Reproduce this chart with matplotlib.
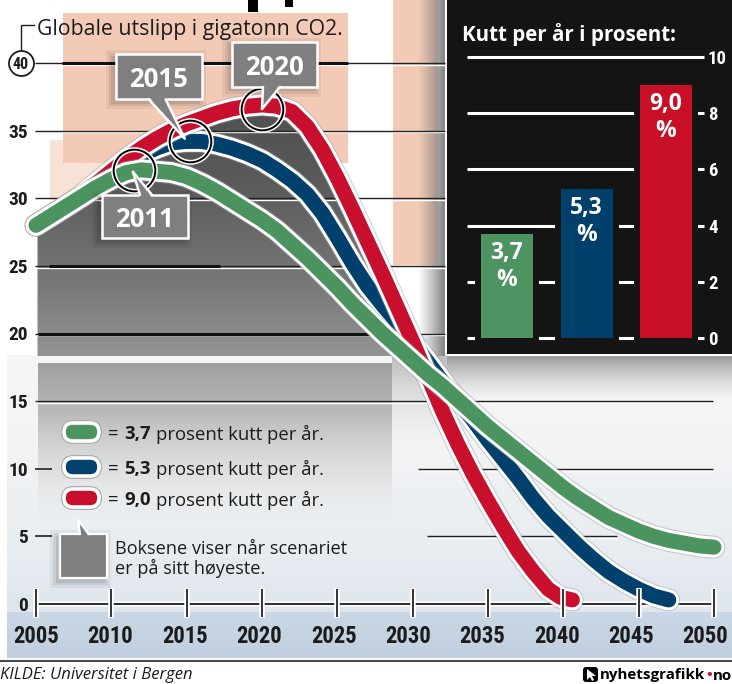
import numpy as np
import matplotlib
matplotlib.use('Agg')
import matplotlib.pyplot as plt
from matplotlib import font_manager
from matplotlib.colors import to_rgba
from matplotlib.patches import Rectangle, Polygon, FancyBboxPatch

# global emissions, gigatonnes CO2 (one point per year)
years_green = list(range(2005, 2051))
co2_green = [28.0, 28.7, 29.4, 30.1, 30.8, 31.4, 31.9, 32.1, 32.0, 31.9,
             31.6, 31.1, 30.5, 29.8, 29.1, 28.4, 27.6, 26.6, 25.6, 24.5,
             23.4, 22.2, 21.1, 20.0, 19.0, 18.0, 17.0, 16.1, 15.1, 14.1,
             13.1, 12.2, 11.3, 10.4, 9.5, 8.6, 7.8, 7.1, 6.4, 5.9,
             5.4, 5.0, 4.7, 4.5, 4.3, 4.2]
years_blue = list(range(2005, 2048))
co2_blue = [28.0, 28.7, 29.4, 30.1, 30.9, 31.7, 32.5, 33.2, 33.7, 34.1,
            34.2, 34.2, 34.0, 33.7, 33.3, 32.8, 32.1, 31.3, 30.3, 28.9,
            27.1, 25.2, 23.5, 22.1, 20.8, 19.4, 17.9, 16.4, 15.0, 13.6,
            12.1, 10.7, 9.3, 7.8, 6.5, 5.4, 4.3, 3.3, 2.4, 1.7,
            1.1, 0.6, 0.3]
years_red = list(range(2005, 2040)) + [2039.8, 2040.6]
co2_red = [28.0, 28.7, 29.4, 30.2, 31.1, 32.0, 32.9, 33.7, 34.4, 35.0,
           35.5, 35.9, 36.3, 36.6, 36.8, 36.9, 36.8, 36.4, 35.3, 33.6,
           31.5, 29.2, 26.8, 24.4, 21.9, 19.4, 16.8, 14.2, 11.8, 9.6,
           7.6, 5.7, 3.9, 2.4, 1.1, 0.5, 0.3]

# cut per year in percent for the three scenarios
cut_labels = ['3,7', '5,3', '9,0']
cut_values = [3.7, 5.3, 9.0]

# when each scenario peaks
peak_labels = ['2011', '2015', '2020']
peak_x = [2011.5, 2015.2, 2020.0]
peak_y = [32.1, 34.2, 36.6]

x_ticks = list(range(2005, 2051, 5))
y_ticks = [0, 5, 10, 15, 20, 25, 30, 35, 40]
bar_ticks = [0, 2, 4, 6, 8, 10]

GREEN, BLUE, RED = '#4b9460', '#00406d', '#c8102e'
INK = '#1c1c1c'
BOXGRAY = '#7f7f7f'
W, H = 732, 684

fl = font_manager.fontManager.ttflist
names = {f.name for f in fl}
SANS = 'Open Sans' if 'Open Sans' in names else 'DejaVu Sans'
narrow = sorted({f.name for f in fl if 'condensed' in str(f.stretch) or 'Narrow' in f.name
                 or 'Condensed' in f.name})
NARROW = narrow[0] if narrow else 'Liberation Sans'
for n in ['Liberation Sans Narrow', 'Roboto Condensed', 'Open Sans Condensed', 'DejaVu Sans']:
    if n in narrow:
        NARROW = n
        break
if NARROW not in names:
    NARROW = 'DejaVu Sans'
COND = dict(family=NARROW, fontstretch='condensed', weight='bold')
plt.rcParams['font.family'] = [SANS, 'DejaVu Sans']

# pixel <-> data for the main chart
SX = (714 - 36) / 45.0
SY = (604 - 63) / 40.0


def yr(px):
    return 2005 + (px - 36) / SX


def gt(py):
    return (604 - py) / SY


fig = plt.figure(figsize=(W / 100, H / 100), dpi=100)
bg = fig.add_axes([0, 0, 1, 1], zorder=0)
ax = fig.add_axes([0, 0, 1, 1], zorder=1)
pan = fig.add_axes([447 / W, 1 - 354 / H, 1 - 447 / W, 354 / H], zorder=2)
for a in (bg, ax, pan):
    a.set_axis_off()
bg.set_xlim(0, W)
bg.set_ylim(H, 0)
ax.set_xlim(yr(0), yr(W))
ax.set_ylim(gt(H), gt(0))
T = bg.transData
R = fig.canvas.get_renderer()


def gradient(axes, extent, stops, vertical=True, z=0):
    t = np.linspace(0, 1, 200)
    pos = [s[0] for s in stops]
    cols = np.array([to_rgba(s[1], s[2] if len(s) > 2 else 1) for s in stops])
    img = np.stack([np.interp(t, pos, cols[:, k]) for k in range(4)], axis=-1)
    img = img[:, None, :] if vertical else img[None, :, :]
    return axes.imshow(img, extent=extent, aspect='auto', interpolation='bilinear', zorder=z)


def fit(t, width):
    w = t.get_window_extent(R).width
    t.set_fontsize(t.get_fontsize() * width / w)
    return t


def right_edge(t):
    bb = t.get_window_extent(R)
    return T.inverted().transform((bb.x1, bb.y0))[0]


def shadow(x, y, w, h, z):
    for grow, alpha in [(7, 0.05), (4, 0.07), (1.5, 0.09)]:
        ax.add_patch(Rectangle((x - 3 - grow, y + 3 - grow), w + 2 * grow, h + 2 * grow,
                               fc='black', ec='none', alpha=alpha, transform=T, zorder=z))


# ---- background ----
bg.add_patch(Rectangle((50, 140), 170, 155, fc='#f8e1d5', ec='none', zorder=1))
bg.add_patch(Rectangle((63, 13), 285, 150, fc='#f2cab6', ec='none', zorder=2))
bg.add_patch(Rectangle((393, 0), 45, 265, fc='#f2cab6', ec='none', zorder=2))
gradient(bg, (418, 446, 356, 0), [(0, '#888888', 0), (1, '#6a6a6a', 0.9)], vertical=False, z=3)
bg.add_patch(Rectangle((248, 0), 10, 12, fc='black', zorder=3))
bg.add_patch(Rectangle((285, 0), 8, 7, fc='black', zorder=3))
gradient(bg, (7, W, 612, 355), [(0, '#f5f6f7'), (0.4, '#f1f3f5'), (0.75, '#e8edf1'), (1, '#dfe6ed')], z=1)
gradient(bg, (38, 392, 520, 363), [(0, '#9f9f9f'), (0.3, '#b5b5b5', 0.95), (0.7, '#d0d0d0', 0.5), (1, '#e0e0e0', 0)], z=2)
gradient(bg, (392, 447, 440, 356), [(0, '#bcbcbc'), (1, '#dddddd', 0)], z=2)
gradient(bg, (447, W, 400, 356), [(0, '#8d8d8d', 0.9), (1, '#cccccc', 0)], z=2)
gradient(bg, (7, W, 658, 612), [(0, '#cbd7e4'), (1, '#c0cfdf')], z=2)
bg.plot([0, W], [660.5, 660.5], color='#4a4a4a', lw=1.5, zorder=3)
bg.plot([446, 446, W], [0, 355, 355], color='white', lw=1.6, zorder=4)

# dark area under the highest curve
FLOOR = 18.3
xr = np.array(years_red)
yv = np.array(co2_red)
edge = yr(392)
keep = xr < edge
verts = [(2005.1, FLOOR), (2005.1, yv[0])] + list(zip(xr[keep][1:], yv[keep][1:])) + \
        [(edge, np.interp(edge, xr, yv)), (edge, FLOOR)]
clip = Polygon(verts, closed=True, transform=ax.transData)
im = gradient(ax, (2005, edge, FLOOR, 38), [(0, '#4e4e4e'), (0.35, '#5a5a5a'), (0.75, '#7a7a7a'), (1, '#939393')], z=1)
im.set_clip_path(clip)

# ---- grid ----
grid_spans = {40: (35, 445), 35: (35, 445), 30: (35, 445), 25: (35, 445),
              20: (35, 445), 15: (35, 713), 10: (418, 713), 5: (427, 617)}
for v, (a, b) in grid_spans.items():
    ax.hlines(v - 1.8 / SY, yr(a), yr(b), color='white', lw=1.0, zorder=2)
    ax.hlines(v, yr(a), yr(b), color='#222222', lw=1.0, zorder=2)
for v, a, b in [(40, 62, 348), (25, 49, 220), (20, 38, 377)]:
    ax.hlines(v, yr(a), yr(b), color='#111111', lw=2.2, zorder=2)
for v in (10, 5):
    ax.hlines(v, yr(35), yr(52), color='#222222', lw=1.2, zorder=2)

yfs = None
for v in sorted(y_ticks, reverse=True):
    if v == 40:
        ax.plot(yr(21), v, 'o', ms=18, mfc='white', mec=INK, mew=1.3, zorder=4)
        ax.text(yr(21), v, str(v), ha='center', va='center_baseline', fontsize=11.5,
                color=INK, zorder=5, **COND)
    else:
        t = ax.text(yr(28), v, str(v), ha='right', va='center_baseline', fontsize=yfs or 12,
                    color=INK, zorder=5, **COND)
        if yfs is None:
            fit(t, 19.5)
            yfs = t.get_fontsize()
bg.plot([21, 21, 34], [51, 25, 25], color=INK, lw=1, zorder=4)
title = bg.text(37, 27, 'Globale utslipp i gigatonn CO2.', va='center_baseline',
                fontsize=15, color=INK, zorder=5)
fit(title, 306)

# x axis
ax.hlines(0, 2005, 2050, color='white', lw=4, zorder=2.5)
ax.hlines(0, 2005, 2050, color='#333333', lw=1.5, zorder=2.6)
ax.vlines(x_ticks, gt(618), gt(588), color='white', lw=4, zorder=20)
ax.vlines(x_ticks, gt(617), gt(589), color='#333333', lw=1.4, zorder=21)
xfs = None
for x in x_ticks:
    # the printed labels sit on a slightly tighter pitch than the ticks
    t = ax.text(yr(36 + (x - 2005) / 5 * 74.4), gt(634), str(x), ha='center',
                va='center_baseline', fontsize=xfs or 16, color=INK, zorder=5, **COND)
    if xfs is None:
        fit(t, 46)
        xfs = t.get_fontsize()

# ---- scenario lines ----
for i, (xs, ys, c) in enumerate([(years_blue, co2_blue, BLUE),
                                 (years_red, co2_red, RED),
                                 (years_green, co2_green, GREEN)]):
    z = 5 + i
    ax.plot(xs, ys, color='#9a9a9a', lw=16.5, alpha=0.45, solid_capstyle='round',
            solid_joinstyle='round', zorder=z)
    ax.plot(xs, ys, color='white', lw=15, solid_capstyle='round', solid_joinstyle='round', zorder=z)
    ax.plot(xs, ys, color=c, lw=10.8, solid_capstyle='round', solid_joinstyle='round', zorder=z + 0.1)

# ---- peak callouts ----
ax.plot(peak_x, peak_y, 'o', ms=30, mfc='none', mec='white', mew=3.6, zorder=9)
ax.plot(peak_x, peak_y, 'o', ms=30, mfc='none', mec='black', mew=1.4, zorder=9.1)
box_rel = [(-32, 25, 86, 43), (-74, -87, 86, 45), (-30, -67, 85, 45)]
ptr_rel = [((6, 25), (18, 25), (-1, 2), 3), ((-41, -42), (-24, -42), (-5, -3), -3),
           ((1, -22), (18, -22), (0, 0), -3)]
for lab, px_, py_, (dx, dy, bw, bh), (b1, b2, tip, ins) in zip(peak_labels, peak_x, peak_y, box_rel, ptr_rel):
    cx, cy = T.inverted().transform(ax.transData.transform((px_, py_)))
    shadow(cx + dx, cy + dy, bw, bh, 9.5)
    ax.add_patch(Rectangle((cx + dx, cy + dy), bw, bh, fc=BOXGRAY, ec='white', lw=1.8,
                           transform=T, zorder=10))
    ax.add_patch(Polygon([(cx + b1[0], cy + b1[1] + ins), (cx + b2[0], cy + b2[1] + ins),
                          (cx + tip[0], cy + tip[1])], closed=True, fc=BOXGRAY, ec='none',
                         transform=T, zorder=11))
    for b in (b1, b2):
        ax.plot([cx + b[0], cx + tip[0]], [cy + b[1], cy + tip[1]], color='white', lw=1.8,
                transform=T, zorder=11, solid_capstyle='round')
    ax.text(cx + dx + bw / 2, cy + dy + bh / 2, lab, ha='center', va='center_baseline',
            color='white', weight='bold', fontsize=18.5, transform=T, zorder=12)

# ---- legend ----
legend_y = [432, 467, 498]
FS = None
for lab, col, y in zip(cut_labels, [GREEN, BLUE, RED], legend_y):
    ax.add_patch(FancyBboxPatch((64, y - 9), 35, 18, boxstyle='round,pad=0,rounding_size=9',
                                fc='none', ec='#a8a8a8', lw=4.2, transform=T, zorder=7.9))
    ax.add_patch(FancyBboxPatch((64, y - 9), 35, 18, boxstyle='round,pad=0,rounding_size=9',
                                fc=col, ec='white', lw=2.6, transform=T, zorder=8))
    t3 = ax.text(158, y, 'prosent kutt per år.', va='center_baseline', color=INK,
                 fontsize=FS or 13, transform=T, zorder=8)
    if FS is None:
        fit(t3, 167)
        FS = t3.get_fontsize()
    ax.text(108, y, '=', va='center_baseline', color=INK, fontsize=FS, transform=T, zorder=8)
    t2 = ax.text(124, y, lab, va='center_baseline', color=INK, weight='bold', fontsize=FS,
                 transform=T, zorder=8)
    t3.set_x(right_edge(t2) + 5)

shadow(60, 534, 47, 44, 7.5)
ax.add_patch(Rectangle((60, 534), 47, 44, fc=BOXGRAY, ec='white', lw=1.6, transform=T, zorder=8))
ax.add_patch(Polygon([(80, 537), (89, 537), (78, 520)], closed=True, fc=BOXGRAY, ec='none',
                     transform=T, zorder=8.1))
ax.plot([80, 78, 89], [534, 520, 534], color='white', lw=1.6, transform=T, zorder=8.2)
note = ax.text(115, 559, 'Boksene viser når scenariet\ner på sitt høyeste.', va='center',
               color=INK, fontsize=FS, linespacing=1.08, transform=T, zorder=8)
fit(note, 233)

# ---- footer ----
src = bg.text(0, 673, 'KILDE: Universitet i Bergen', style='italic', va='center_baseline',
              color=INK, fontsize=11, zorder=5)
fit(src, 192)
bg.add_patch(FancyBboxPatch((583, 667), 15, 15, boxstyle='round,pad=0,rounding_size=3',
                            fc='black', ec='none', zorder=5))
bg.add_patch(Polygon([(587, 669), (587, 680), (590, 677), (592, 681), (594, 680), (592, 676), (596, 676)],
                     closed=True, fc='white', ec='none', zorder=6))
logo = bg.text(600, 674, 'nyhetsgrafikk', weight='bold', va='center_baseline', color='black',
               fontsize=12, zorder=5)
fit(logo, 105)
dot = bg.text(right_edge(logo) + 1, 674, '•', weight='bold', va='center_baseline', color=RED,
              fontsize=logo.get_fontsize(), zorder=5)
bg.text(right_edge(dot) + 1, 674, 'no', weight='bold', va='center_baseline', color='black',
        fontsize=logo.get_fontsize(), zorder=5)

# ---- inset: cut per year ----
pan.set_xlim(-0.755, 2.830)
pan.set_ylim(-0.569, 12.03)
pan.add_patch(Rectangle((0, 0), 1, 1, transform=pan.transAxes, fc='#141414', ec='none', zorder=0))
idx = np.arange(len(cut_values))
pan.hlines(bar_ticks, -0.503, 2.478, color='white', lw=2.2, zorder=1)
pan.bar(idx, np.array(cut_values) + 0.52, bottom=-0.3, width=0.805, color='#141414', zorder=2)
pan.bar(idx, cut_values, width=0.654, color=['#4e9462', '#00406b', '#c80f25'], zorder=3)
pfs = None
for t in sorted(bar_ticks, reverse=True):
    tt = pan.text(2.528, t, str(t), ha='left', va='center_baseline', color='white',
                  fontsize=pfs or 13, zorder=4, **COND)
    if pfs is None:
        fit(tt, 19)
        pfs = tt.get_fontsize()
for i, (lab, v) in enumerate(zip(cut_labels, cut_values)):
    pan.annotate(lab, (i, v), xytext=(0, -16), textcoords='offset pixels', ha='center',
                 va='center_baseline', color='white', weight='bold', fontsize=16.5, zorder=4)
    pan.annotate('%', (i, v), xytext=(0, -43), textcoords='offset pixels', ha='center',
                 va='center_baseline', color='white', weight='bold', fontsize=16.5, zorder=4)
ptitle = pan.text(-0.566, 10.89, 'Kutt per år i prosent:', ha='left', va='center_baseline',
                  color='white', weight='bold', fontsize=15, zorder=4)
fit(ptitle, 215)

fig.savefig('out.png', dpi=100)
